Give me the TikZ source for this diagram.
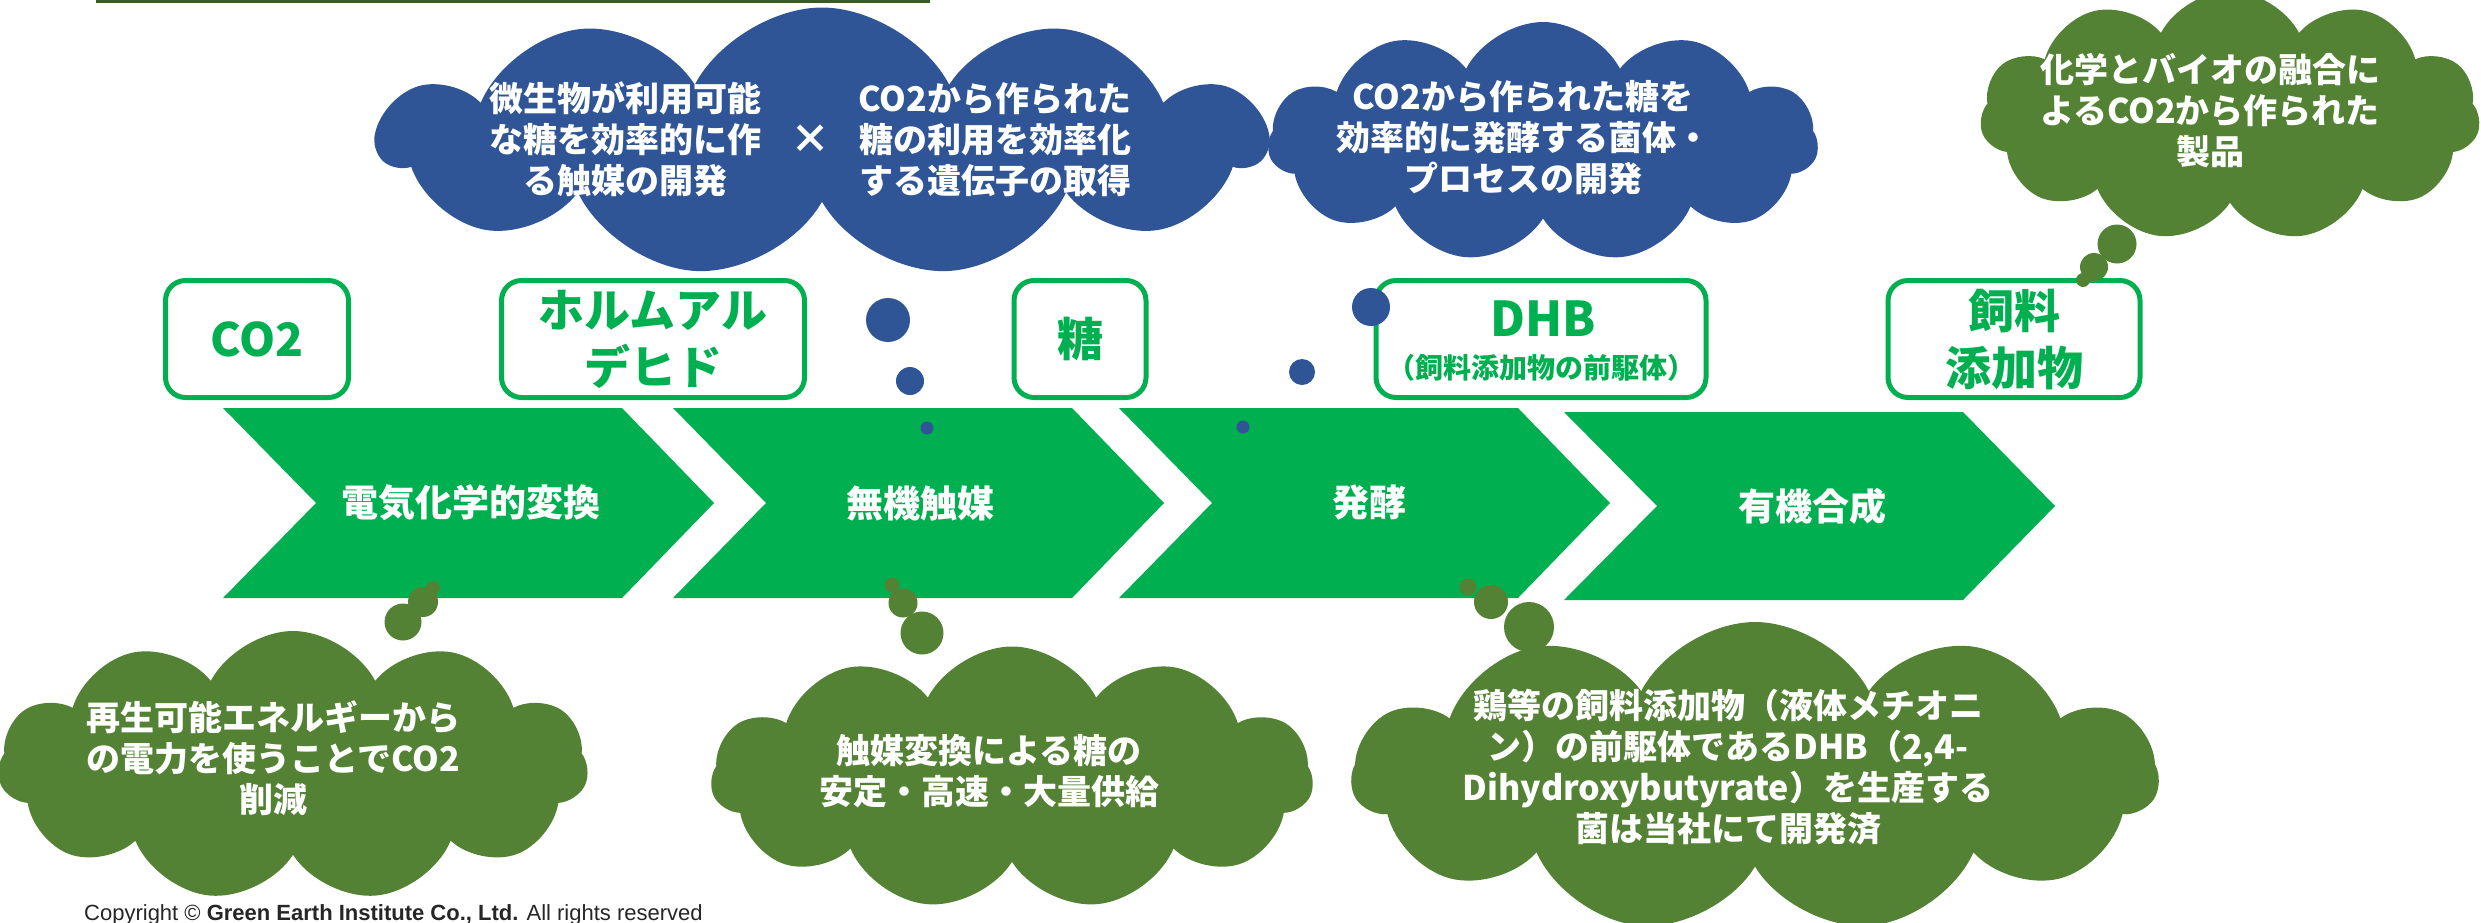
\documentclass[tikz,border=0pt]{standalone}
\usepackage{fontspec}
\setmainfont{Noto Sans CJK JP}
\newfontfamily\latinfont{Liberation Sans}
\usetikzlibrary{shapes.symbols}
\definecolor{chevgreen}{HTML}{00B050}
\definecolor{cloudblue}{HTML}{2F5597}
\definecolor{cloudgreen}{HTML}{548235}
\definecolor{linegreen}{HTML}{3A5A24}
\definecolor{copytext}{HTML}{262626}
\begin{document}
\begin{tikzpicture}[x=1pt,y=-1pt,
  chev/.style={fill=chevgreen},
  chevlabel/.style={text=white,inner sep=0,font=\fontsize{37}{44}\selectfont\bfseries},
  stagebox/.style={draw=chevgreen,line width=5pt,rounded corners=20pt,fill=white,
    inner sep=0,minimum height=117pt,text=chevgreen,align=center,
    font=\fontsize{46}{57}\selectfont\bfseries},
  boxtext/.style={text=chevgreen,inner sep=0,align=center},
  puffcloud/.style={cloud,cloud puffs=11,cloud puff arc=125,cloud ignores aspect,inner sep=0},
  bluecloud/.style={puffcloud,fill=cloudblue},
  greencloud/.style={puffcloud,fill=cloudgreen},
  cloudtext/.style={text=white,align=center,inner sep=0,font=\fontsize{34}{41}\selectfont\bfseries},
  bluedot/.style={circle,fill=cloudblue,inner sep=0},
  greendot/.style={circle,fill=cloudgreen,inner sep=0}
]
\useasboundingbox (0,0) rectangle (2481,922);
\clip (0,0) rectangle (2481,922);

% header rule
\fill[linegreen] (96,0) rectangle (930,3);

% chevrons
\fill[chev] (223,408) -- ++(399,0) -- ++(92,95) -- ++(-92,95) -- ++(-399,0) -- ++(93,-95) -- cycle;
\fill[chev] (673,408) -- ++(399,0) -- ++(92,95) -- ++(-92,95) -- ++(-399,0) -- ++(93,-95) -- cycle;
\fill[chev] (1119,408) -- ++(399,0) -- ++(92,95) -- ++(-92,95) -- ++(-399,0) -- ++(93,-95) -- cycle;
\fill[chev] (1564,412) -- ++(399,0) -- ++(92,94) -- ++(-92,94) -- ++(-399,0) -- ++(93,-94) -- cycle;
\node[chevlabel] (s1) at (471,503) {電気化学的変換};
\node[chevlabel] (s2) at (920,503) {無機触媒};
\node[chevlabel] (s3) at (1369,503) {発酵};
\node[chevlabel] (s4) at (1812,506) {有機合成};

% stage boxes
\node[stagebox,minimum width=183pt] (bco2) at (257,339) {CO2};
\node[stagebox,minimum width=303pt] (bform) at (653,339) {ホルムアル\\デヒド};
\node[stagebox,minimum width=132pt] (bsugar) at (1080,339) {糖};
\node[stagebox,minimum width=330pt] (bdhb) at (1541,339) {};
\node[boxtext,font=\fontsize{48}{56}\selectfont\bfseries] (dhbname) at (1543,319) {DHB};
\node[boxtext,font=\fontsize{28}{32}\selectfont\bfseries] (dhbsub) at (1541,368) {（飼料添加物の前駆体）};
\node[stagebox,minimum width=252pt] (bfeed) at (2014,339) {飼料\\添加物};

% blue clouds
\node[bluecloud,minimum width=887pt,minimum height=269pt] (c1) at (822,142) {};
\node[cloudtext] (c1l) at (625,139) {微生物が利用可能\\な糖を効率的に作\\る触媒の開発};
\node[cloudtext,font=\fontsize{40}{44}\selectfont\bfseries] (c1x) at (810,139) {×};
\node[cloudtext] (c1r) at (995,140) {CO2から作られた\\糖の利用を効率化\\する遺伝子の取得};
\node[bluedot,minimum size=44pt] (d1a) at (888,320) {};
\node[bluedot,minimum size=28pt] (d1b) at (910,381) {};
\node[bluedot,minimum size=13pt] (d1c) at (927,428) {};

\node[bluecloud,minimum width=550pt,minimum height=240pt] (c2) at (1543,142) {};
\node[cloudtext] (c2t) at (1523,138) {CO2から作られた糖を\\効率的に発酵する菌体・\\プロセスの開発};
\node[bluedot,minimum size=38pt] (d2a) at (1371,307) {};
\node[bluedot,minimum size=26pt] (d2b) at (1302,372) {};
\node[bluedot,minimum size=13pt] (d2c) at (1243,427) {};

% green clouds
\node[greencloud,minimum width=500pt,minimum height=250pt] (ca) at (2230,116) {};
\node[cloudtext] (cat) at (2210,111) {化学とバイオの融合に\\よるCO2から作られた\\製品};
\node[greendot,minimum size=39pt] (dab) at (2117,244) {};
\node[greendot,minimum size=28pt] (dac) at (2094,267) {};
\node[greendot,minimum size=14pt] (dad) at (2083,280) {};

\node[greencloud,minimum width=590pt,minimum height=270pt] (cb) at (293,766) {};
\node[cloudtext] (cbt) at (273,758) {再生可能エネルギーから\\の電力を使うことでCO2\\削減};
\node[greendot,minimum size=37pt] (dba) at (403,622) {};
\node[greendot,minimum size=30pt] (dbb) at (423,602) {};
\node[greendot,minimum size=14pt] (dbc) at (433,588) {};

\node[greencloud,minimum width=602pt,minimum height=263pt] (cc) at (1012,778) {};
\node[cloudtext] (cct) at (989,771) {触媒変換による糖の\\安定・高速・大量供給};
\node[greendot,minimum size=43pt] (dca) at (922,633) {};
\node[greendot,minimum size=29pt] (dcb) at (903,603) {};
\node[greendot,minimum size=15pt] (dcc) at (892,585) {};

\node[greencloud,minimum width=806pt,minimum height=310pt] (cd) at (1755,777) {};
\node[cloudtext] (cdt) at (1728,767) {鶏等の飼料添加物（液体メチオニ\\ン）の前駆体であるDHB（2,4-\\Dihydroxybutyrate）を生産する\\菌は当社にて開発済};
\node[greendot,minimum size=50pt] (dda) at (1529,627) {};
\node[greendot,minimum size=34pt] (ddb) at (1491,602) {};
\node[greendot,minimum size=17pt] (ddc) at (1468,587) {};

% copyright
\node[anchor=base west,inner sep=0,text=copytext,font=\latinfont\fontsize{22}{26}\selectfont] (copy) at (84,920)
  {Copyright © \textbf{Green Earth Institute Co., Ltd.} All rights reserved};
\end{tikzpicture}
\end{document}
